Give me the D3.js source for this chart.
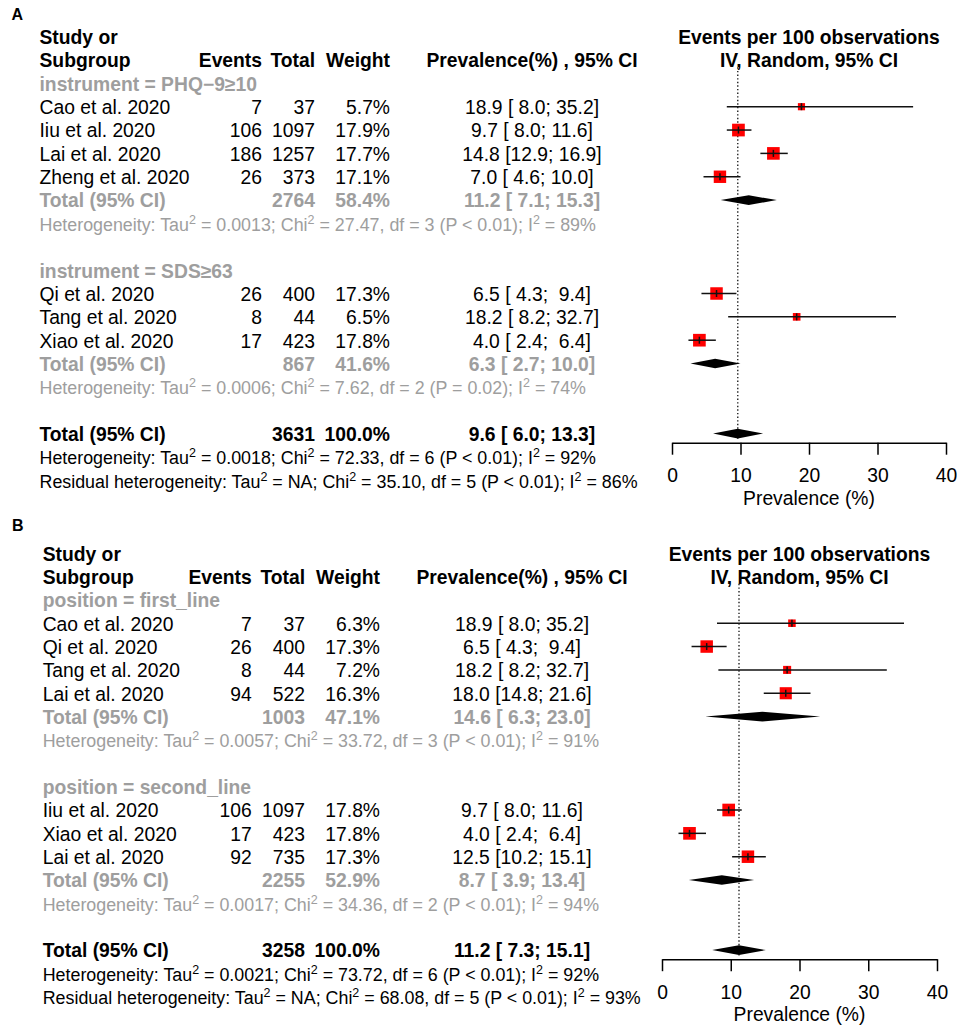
<!DOCTYPE html>
<html><head><meta charset="utf-8">
<script src="https://cdn.jsdelivr.net/npm/d3@7"></script>
<style>
body{margin:0;background:#fff}
svg text{white-space:pre;font-family:'Liberation Sans',Arial,Helvetica,sans-serif}
</style>
</head><body>
<svg id="chart" width="957" height="1029"></svg>
<script>
// ---------------- DATA : panel A ----------------
const A_groupLabels = ["instrument = PHQ\u22129\u226510", "instrument = SDS\u226563"];
const A_studies = ["Cao et al. 2020","Iiu et al. 2020","Lai et al. 2020","Zheng et al. 2020","Qi et al. 2020","Tang et al. 2020","Xiao et al. 2020"];
const A_group   = [0,0,0,0,1,1,1];
const A_events  = [7,106,186,26,26,8,17];
const A_total   = [37,1097,1257,373,400,44,423];
const A_weight  = [5.7,17.9,17.7,17.1,17.3,6.5,17.8];
const A_est     = [18.9,9.7,14.8,7.0,6.5,18.2,4.0];
const A_lower   = [8.0,8.0,12.9,4.6,4.3,8.2,2.4];
const A_upper   = [35.2,11.6,16.9,10.0,9.4,32.7,6.4];
const A_subTotal  = [2764,867];
const A_subWeight = [58.4,41.6];
const A_subEst    = [11.2,6.3];
const A_subLower  = [7.1,2.7];
const A_subUpper  = [15.3,10.0];
const A_subTau = ["0.0013","0.0006"];
const A_subChi = ["27.47","7.62"];
const A_subDf  = [3,2];
const A_subP   = ["< 0.01","= 0.02"];
const A_subI2  = [89,74];
const A_overall = [3631, 100.0, 9.6, 6.0, 13.3];           // total, weight, est, lower, upper
const A_overallHet = ["0.0018","72.33",6,"< 0.01",92];      // tau2, chi2, df, p, I2
const A_residHet   = ["NA","35.10",5,"< 0.01",86];

// ---------------- DATA : panel B ----------------
const B_groupLabels = ["position = first_line", "position = second_line"];
const B_studies = ["Cao et al. 2020","Qi et al. 2020","Tang et al. 2020","Lai et al. 2020","Iiu et al. 2020","Xiao et al. 2020","Lai et al. 2020"];
const B_group   = [0,0,0,0,1,1,1];
const B_events  = [7,26,8,94,106,17,92];
const B_total   = [37,400,44,522,1097,423,735];
const B_weight  = [6.3,17.3,7.2,16.3,17.8,17.8,17.3];
const B_est     = [18.9,6.5,18.2,18.0,9.7,4.0,12.5];
const B_lower   = [8.0,4.3,8.2,14.8,8.0,2.4,10.2];
const B_upper   = [35.2,9.4,32.7,21.6,11.6,6.4,15.1];
const B_subTotal  = [1003,2255];
const B_subWeight = [47.1,52.9];
const B_subEst    = [14.6,8.7];
const B_subLower  = [6.3,3.9];
const B_subUpper  = [23.0,13.4];
const B_subTau = ["0.0057","0.0017"];
const B_subChi = ["33.72","34.36"];
const B_subDf  = [3,2];
const B_subP   = ["< 0.01","< 0.01"];
const B_subI2  = [91,94];
const B_overall = [3258, 100.0, 11.2, 7.3, 15.1];
const B_overallHet = ["0.0021","73.72",6,"< 0.01",92];
const B_residHet   = ["NA","68.08",5,"< 0.01",93];

// ---------------- shared ----------------
const xTicks = [0,10,20,30,40];
const xDomain = [0,40];
const colHeaders = ["Study or","Subgroup","Events","Total","Weight","Prevalence(%) , 95% CI"];
const plotHeaders = ["Events per 100 observations","IV, Random, 95% CI"];
const xLabel = "Prevalence (%)";
const panelLetters = ["A","B"];

// ---------------- drawing ----------------
const FS = 19.3, HET_FS = 17.85, SUP_FS = 12.5;
const GRAY = "#9E9E9E";
const svg = d3.select("#chart");

function fmtCI(e,l,u){
  const p = v => v.toFixed(1).padStart(4," ");
  return e.toFixed(1)+" ["+p(l)+"; "+p(u)+"]";
}

function hetText(g, x, y, prefix, h, color){
  const t = g.append("text").attr("x",x).attr("y",y).attr("fill",color).style("font-size",HET_FS+"px");
  const parts = [[prefix+"Tau",0],["2",1],[" = "+h[0]+"; Chi",0],["2",1],[" = "+h[1]+", df = "+h[2]+" (P "+h[3]+"); I",0],["2",1],[" = "+h[4]+"%",0]];
  let raised = false;
  parts.forEach(([s,sup])=>{
    const ts = t.append("tspan").text(s);
    if(sup){ ts.attr("dy",-7).style("font-size",SUP_FS+"px"); raised = true; }
    else if(raised){ ts.attr("dy",7); raised = false; }
  });
}

function drawPanel(d, L){
  const g = svg.append("g");
  const rowY = r => L.yBase + r*L.rowH;
  const midY = r => rowY(r) - 7.35;
  const x = d3.scaleLinear().domain(xDomain).range(L.xRange);
  const side = d3.scaleSqrt().domain([0,17.9]).range([0,12.7]);

  const txt = (r, xx, s, opt={}) => g.append("text").attr("x",xx).attr("y",rowY(r))
      .attr("text-anchor",opt.anchor||"start").attr("fill",opt.color||"#000")
      .style("font-weight",opt.bold?"bold":"normal").style("font-size",(opt.fs||FS)+"px").text(s);

  // panel letter
  g.append("text").attr("x",L.letterX).attr("y",L.letterY).style("font-weight","bold").style("font-size","16px").text(d.letter);

  // headers
  txt(0, L.labelX, colHeaders[0], {bold:true});
  txt(1, L.labelX, colHeaders[1], {bold:true});
  txt(1, L.eventsX, colHeaders[2], {bold:true, anchor:"end"});
  txt(1, L.totalX, colHeaders[3], {bold:true, anchor:"end"});
  txt(1, L.weightX, colHeaders[4], {bold:true, anchor:"end"});
  txt(1, L.prevX, colHeaders[5], {bold:true, anchor:"middle"});
  const pc = (L.xRange[0]+L.xRange[1])/2;
  txt(0, pc, plotHeaders[0], {bold:true, anchor:"middle"});
  txt(1, pc, plotHeaders[1], {bold:true, anchor:"middle"});

  let r = 2;
  const studyRows = [], diamondRows = [];
  [0,1].forEach(gi=>{
    txt(r, L.labelX, d.groupLabels[gi], {bold:true, color:GRAY}); r++;
    d.studies.forEach((s,i)=>{
      if(d.group[i]!==gi) return;
      txt(r, L.labelX, s);
      txt(r, L.eventsX, String(d.events[i]), {anchor:"end"});
      txt(r, L.totalX, String(d.total[i]), {anchor:"end"});
      txt(r, L.weightX, d.weight[i].toFixed(1)+"%", {anchor:"end"});
      txt(r, L.prevX, fmtCI(d.est[i],d.lower[i],d.upper[i]), {anchor:"middle"});
      studyRows.push({r, w:d.weight[i], e:d.est[i], l:d.lower[i], u:d.upper[i]});
      r++;
    });
    txt(r, L.labelX, "Total (95% CI)", {bold:true, color:GRAY});
    txt(r, L.totalX, String(d.subTotal[gi]), {bold:true, color:GRAY, anchor:"end"});
    txt(r, L.weightX, d.subWeight[gi].toFixed(1)+"%", {bold:true, color:GRAY, anchor:"end"});
    txt(r, L.prevX, fmtCI(d.subEst[gi],d.subLower[gi],d.subUpper[gi]), {bold:true, color:GRAY, anchor:"middle"});
    diamondRows.push({r, e:d.subEst[gi], l:d.subLower[gi], u:d.subUpper[gi]});
    r++;
    hetText(g, L.labelX, rowY(r), "Heterogeneity: ", [d.subTau[gi],d.subChi[gi],d.subDf[gi],d.subP[gi],d.subI2[gi]], GRAY);
    r += 2;
  });
  const o = d.overall;
  txt(r, L.labelX, "Total (95% CI)", {bold:true});
  txt(r, L.totalX, String(o[0]), {bold:true, anchor:"end"});
  txt(r, L.weightX, o[1].toFixed(1)+"%", {bold:true, anchor:"end"});
  txt(r, L.prevX, fmtCI(o[2],o[3],o[4]), {bold:true, anchor:"middle"});
  diamondRows.push({r, e:o[2], l:o[3], u:o[4]});
  const overallRow = r;
  r++;
  hetText(g, L.labelX, rowY(r), "Heterogeneity: ", d.overallHet, "#000"); r++;
  hetText(g, L.labelX, rowY(r), "Residual heterogeneity: ", d.residHet, "#000");

  // reference dotted line
  g.append("line").attr("x1",x(o[2])).attr("x2",x(o[2]))
    .attr("y1",rowY(1)).attr("y2",midY(overallRow)+5.5)
    .attr("stroke","#222").attr("stroke-width",1.4).attr("stroke-dasharray","1.4,2.2");

  // squares + CI
  const sg = g.selectAll("g.study").data(studyRows).join("g").attr("class","study");
  sg.append("rect")
    .attr("x",s=>x(s.e)-side(s.w)/2).attr("y",s=>midY(s.r)-side(s.w)/2)
    .attr("width",s=>side(s.w)).attr("height",s=>side(s.w)).attr("fill","#FF0000");
  sg.append("line").attr("x1",s=>x(s.l)).attr("x2",s=>x(s.u))
    .attr("y1",s=>midY(s.r)).attr("y2",s=>midY(s.r)).attr("stroke","#111").attr("stroke-width",1.5);
  sg.append("line").attr("x1",s=>x(s.e)).attr("x2",s=>x(s.e))
    .attr("y1",s=>midY(s.r)-3.5).attr("y2",s=>midY(s.r)+3.5).attr("stroke","#111").attr("stroke-width",1.5);

  // diamonds
  g.selectAll("path.dia").data(diamondRows).join("path").attr("class","dia")
    .attr("d",s=>{const y=midY(s.r);return `M${x(s.l)},${y}L${x(s.e)},${y-4.8}L${x(s.u)},${y}L${x(s.e)},${y+4.8}Z`;})
    .attr("fill","#000");

  // axis
  const ax = g.append("g").attr("transform",`translate(0,${L.axisY})`)
    .call(d3.axisBottom(x).tickValues(xTicks).tickSize(12).tickSizeOuter(0).tickFormat(d3.format("d")));
  ax.select(".domain").attr("stroke","#000").attr("stroke-width",1.5);
  ax.selectAll(".tick line").attr("stroke","#000").attr("stroke-width",1.5);
  ax.selectAll(".tick text").attr("y",L.tickLabelDy).attr("dy",0).attr("fill","#000")
    .style("font-size",FS+"px").style("font-family","'Liberation Sans',Arial,sans-serif");
  g.append("text").attr("x",pc).attr("y",L.axisY+L.xLabelDy).attr("text-anchor","middle")
    .style("font-size",FS+"px").text(xLabel);
}

const panelA = {letter:panelLetters[0], groupLabels:A_groupLabels, studies:A_studies, group:A_group, events:A_events,
  total:A_total, weight:A_weight, est:A_est, lower:A_lower, upper:A_upper, subTotal:A_subTotal, subWeight:A_subWeight,
  subEst:A_subEst, subLower:A_subLower, subUpper:A_subUpper, subTau:A_subTau, subChi:A_subChi, subDf:A_subDf,
  subP:A_subP, subI2:A_subI2, overall:A_overall, overallHet:A_overallHet, residHet:A_residHet};
const panelB = {letter:panelLetters[1], groupLabels:B_groupLabels, studies:B_studies, group:B_group, events:B_events,
  total:B_total, weight:B_weight, est:B_est, lower:B_lower, upper:B_upper, subTotal:B_subTotal, subWeight:B_subWeight,
  subEst:B_subEst, subLower:B_subLower, subUpper:B_subUpper, subTau:B_subTau, subChi:B_subChi, subDf:B_subDf,
  subP:B_subP, subI2:B_subI2, overall:B_overall, overallHet:B_overallHet, residHet:B_residHet};

drawPanel(panelA, {yBase:44, rowH:23.35, letterX:11.5, letterY:20, labelX:39.5, eventsX:262, totalX:315, weightX:390,
  prevX:532, xRange:[672,946], axisY:442.7, tickLabelDy:39.5, xLabelDy:62});
drawPanel(panelB, {yBase:560.5, rowH:23.35, letterX:12, letterY:530.5, labelX:42.7, eventsX:251.7, totalX:305, weightX:380,
  prevX:522, xRange:[662,937], axisY:959.2, tickLabelDy:39.5, xLabelDy:62});
</script>
</body></html>
